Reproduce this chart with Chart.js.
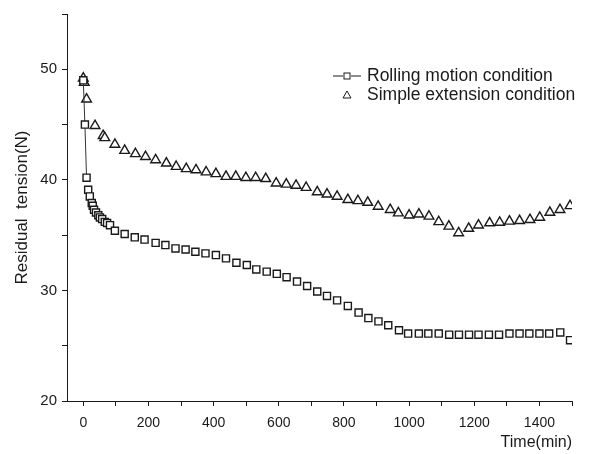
<!DOCTYPE html>
<html lang="en">
<head>
  <meta charset="UTF-8">
  <title>Residual tension vs time</title>
  <script src="https://cdn.jsdelivr.net/npm/chart.js@4.4.1/dist/chart.umd.min.js"></script>
  <style>
    html, body { margin: 0; padding: 0; background: #fff; }
    #wrap { width: 603px; height: 454px; position: relative; }
  </style>
</head>
<body>
  <div id="wrap">
    <canvas id="tensionChart" width="603" height="454"></canvas>
  </div>

  <script>
    // Rolling motion condition (squares)
    const rollTime = [0, 5, 10, 15, 20, 26, 29, 33, 39, 46, 51, 58, 66, 73, 82, 97, 127, 158, 188, 222, 252, 283, 314, 344,
      375, 407, 438, 470, 502, 531, 563, 594, 624, 656, 687, 718, 748, 779, 812, 845, 875, 906, 936, 969,
      997, 1030, 1059, 1091, 1123, 1153, 1184, 1213, 1245, 1276, 1308, 1339, 1369, 1400, 1430, 1464, 1494];
    const rollTension = [49.0, 45.0, 40.2, 39.1, 38.5, 37.9, 37.65, 37.3, 37.05, 36.8, 36.6, 36.45, 36.2, 36.1, 35.9, 35.4, 35.1, 34.8, 34.6, 34.3, 34.1, 33.8, 33.7, 33.5,
      33.35, 33.2, 32.9, 32.5, 32.3, 31.9, 31.7, 31.5, 31.2, 30.8, 30.4, 29.9, 29.5, 29.1, 28.6, 28.0, 27.5, 27.2, 26.85, 26.4,
      26.1, 26.1, 26.1, 26.1, 26.0, 26.0, 26.0, 26.0, 26.0, 26.0, 26.1, 26.1, 26.1, 26.1, 26.1, 26.2, 25.5];

    // Simple extension condition (triangles)
    const extTime = [0, 3, 10, 36, 61, 66, 97, 127, 160, 191, 222, 255, 285, 316, 346, 377, 407, 438, 468, 499, 529, 560,
      592, 623, 653, 684, 718, 748, 779, 812, 843, 873, 905, 942, 967, 1000, 1030, 1061, 1091, 1122, 1152, 1183,
      1213, 1247, 1278, 1308, 1339, 1371, 1401, 1432, 1463, 1494];
    const extTension = [49.2, 48.8, 47.3, 44.9, 44.0, 43.8, 43.2, 42.65, 42.35, 42.1, 41.8, 41.5, 41.2, 41.0, 40.9, 40.7, 40.55, 40.3, 40.3, 40.2, 40.2, 40.1,
      39.7, 39.6, 39.5, 39.3, 38.9, 38.7, 38.5, 38.2, 38.1, 37.95, 37.6, 37.3, 37.0, 36.8, 36.9, 36.7, 36.2, 35.8, 35.2, 35.6,
      35.9, 36.1, 36.15, 36.25, 36.3, 36.4, 36.6, 37.05, 37.3, 37.65];

    // labelled ticks
    const xTickLabels = [0, 200, 400, 600, 800, 1000, 1200, 1400];
    const yTickLabels = [20, 30, 40, 50];

    const seriesNames = ['Rolling motion condition', 'Simple extension condition'];

    const FONT = "'Liberation Sans', Arial, sans-serif";
    const INK = '#1a1a1a';

    const toPoints = (xs, ys) => xs.map((x, i) => ({ x: x, y: ys[i] }));

    // legend drawn in the top right corner of the plot
    const cornerLegend = {
      id: 'cornerLegend',
      afterDraw(chart) {
        const ctx = chart.ctx;
        ctx.save();
        ctx.font = '17.5px ' + FONT;
        ctx.fillStyle = INK;
        ctx.textBaseline = 'middle';
        ctx.strokeStyle = INK;
        ctx.lineWidth = 1;

        // row 1: line + square
        let y = 76;
        ctx.beginPath();
        ctx.moveTo(333, y); ctx.lineTo(343, y);
        ctx.moveTo(351, y); ctx.lineTo(361, y);
        ctx.stroke();
        ctx.strokeRect(344, y - 3, 6, 6);
        ctx.fillText(seriesNames[0], 367, y);

        // row 2: triangle
        y = 95;
        ctx.beginPath();
        ctx.moveTo(347, y - 4);
        ctx.lineTo(351, y + 3);
        ctx.lineTo(343, y + 3);
        ctx.closePath();
        ctx.stroke();
        ctx.fillText(seriesNames[1], 367, y);
        ctx.restore();
      }
    };

    const ctx = document.getElementById('tensionChart').getContext('2d');
    new Chart(ctx, {
      type: 'scatter',
      data: {
        datasets: [
          {
            label: seriesNames[0],
            data: toPoints(rollTime, rollTension),
            showLine: true,
            borderColor: INK,
            borderWidth: 1,
            segment: {
              borderColor: c => (c.p1.parsed.x <= 10 ? '#333' : 'rgba(0,0,0,0)')
            },
            pointStyle: 'rect',
            pointRadius: 5,
            pointBorderWidth: 1.4,
            pointBorderColor: INK,
            pointBackgroundColor: '#fff'
          },
          {
            label: seriesNames[1],
            data: toPoints(extTime, extTension),
            showLine: false,
            pointStyle: 'triangle',
            pointRadius: 5.6,
            pointBorderWidth: 1.4,
            pointBorderColor: INK,
            pointBackgroundColor: '#fff'
          }
        ]
      },
      options: {
        responsive: false,
        animation: false,
        layout: { padding: { left: 0, top: 10, right: 31, bottom: 0 } },
        plugins: {
          legend: { display: false },
          tooltip: { enabled: false }
        },
        scales: {
          x: {
            type: 'linear',
            min: -50,
            max: 1500,
            afterFit: s => { s.height = 53; },
            border: { display: true, color: INK, width: 1 },
            grid: { drawOnChartArea: false, drawTicks: true, tickLength: 5, color: INK },
            ticks: {
              stepSize: 100,
              includeBounds: false,
              autoSkip: false,
              maxRotation: 0,
              padding: 9,
              color: INK,
              font: { family: FONT, size: 14 },
              callback: v => (xTickLabels.includes(v) ? String(v) : '')
            },
            title: {
              display: true,
              text: 'Time(min)',
              align: 'end',
              color: INK,
              font: { family: FONT, size: 16 },
              padding: { top: 2, bottom: 2 }
            }
          },
          y: {
            type: 'linear',
            min: 20,
            max: 55,
            afterFit: s => { s.width = 67; },
            border: { display: true, color: INK, width: 1 },
            grid: { drawOnChartArea: false, drawTicks: true, tickLength: 5, color: INK },
            ticks: {
              stepSize: 5,
              autoSkip: false,
              padding: 5,
              color: INK,
              font: { family: FONT, size: 15 },
              callback: v => (yTickLabels.includes(v) ? String(v) : '')
            },
            title: {
              display: true,
              text: 'Residual  tension(N)',
              color: INK,
              font: { family: FONT, size: 17 },
              padding: { top: 12, bottom: 0 }
            }
          }
        }
      },
      plugins: [cornerLegend]
    });
  </script>
</body>
</html>
